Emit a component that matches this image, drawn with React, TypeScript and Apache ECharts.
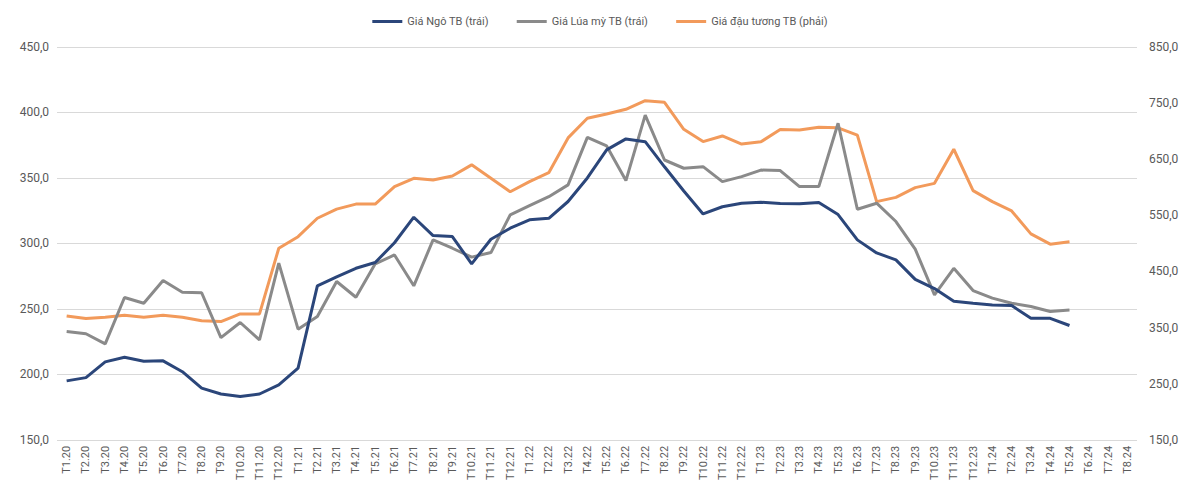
import React, { useEffect, useRef } from "react";
import * as echarts from "echarts";

const categories = [
  "T1.20","T2.20","T3.20","T4.20","T5.20","T6.20","T7.20","T8.20","T9.20","T10.20","T11.20","T12.20",
  "T1.21","T2.21","T3.21","T4.21","T5.21","T6.21","T7.21","T8.21","T9.21","T10.21","T11.21","T12.21",
  "T1.22","T2.22","T3.22","T4.22","T5.22","T6.22","T7.22","T8.22","T9.22","T10.22","T11.22","T12.22",
  "T1.23","T2.23","T3.23","T4.23","T5.23","T6.23","T7.23","T8.23","T9.23","T10.23","T11.23","T12.23",
  "T1.24","T2.24","T3.24","T4.24","T5.24","T6.24","T7.24","T8.24",
];

const cornPrice = [
  195, 197.5, 209.5, 213, 210, 210.3, 202, 189.5, 185, 183, 185, 192,
  204.7, 267.6, 274.5, 281, 285.4, 300.5, 320, 306, 305.2, 284.4, 303.2, 311.6,
  318, 319.2, 332, 350, 371.4, 379.8, 377.7, 358.5, 340, 322.5, 328, 330.7,
  331.4, 330.5, 330.3, 331.2, 322, 302.7, 292.7, 287.4, 272.5, 265.5, 255.8, 254.3,
  253, 252.5, 242.8, 242.8, 237.3,
];

const wheatPrice = [
  232.7, 231, 223.3, 258.7, 254.3, 271.6, 262.7, 262.3, 228, 239.6, 226.3, 284.9,
  234.5, 244.1, 270.9, 258.9, 284.4, 291.2, 267.6, 302.7, 296.3, 289.5, 293, 321.8,
  328.9, 335.7, 344.7, 381, 374.4, 348, 398, 363.7, 357.4, 358.6, 347.2, 351,
  356, 355.6, 343.4, 343.4, 391.8, 326.1, 330.7, 316.7, 295.6, 260.7, 281, 264,
  258.2, 254.3, 251.8, 248, 249.2,
];

const soyPrice = [
  370.8, 366, 368.5, 372, 368.5, 372, 368.5, 362, 360.7, 374.4, 374.4, 491.4,
  512, 544.8, 561, 570, 570, 601, 616, 613, 620, 640, 616, 592,
  610, 626, 688, 723, 730.7, 739, 754.4, 751.5, 703.4, 681.4, 691.5, 677,
  681, 703, 702, 707, 706, 693, 574.4, 582, 599.4, 607, 667.8, 594,
  574.4, 557.9, 517, 498.6, 503,
];

const seriesNames = ["Giá Ngô TB (trái)", "Giá Lúa mỳ TB (trái)", "Giá đậu tương TB (phải)"];
const seriesColors = ["#2B467A", "#8A8A8A", "#F29A5B"];

const fmt = (v: number) => v.toFixed(1).replace(".", ",");

export default function App() {
  const ref = useRef<HTMLDivElement>(null);
  useEffect(() => {
    document.body.style.margin = "0";
    if (!ref.current) return;
    const chart = echarts.init(ref.current, null, { renderer: "svg" });
    const font = "Roboto, 'Noto Sans', sans-serif";
    chart.setOption({
      animation: false,
      backgroundColor: "#ffffff",
      textStyle: { fontFamily: font },
      legend: {
        top: 11,
        left: "center",
        itemWidth: 30,
        itemHeight: 3,
        itemGap: 28,
        icon: "rect",
        textStyle: { color: "#595959", fontSize: 11, fontFamily: font },
        data: seriesNames,
      },
      grid: { left: 57, right: 63, top: 47, bottom: 43, containLabel: false },
      xAxis: {
        type: "category",
        data: categories,
        boundaryGap: true,
        axisLine: { show: false },
        axisTick: { show: false },
        axisLabel: {
          interval: 0,
          rotate: 90,
          color: "#595959",
          fontSize: 11,
          margin: 6,
          fontFamily: font,
        },
      },
      yAxis: [
        {
          type: "value",
          min: 150,
          max: 450,
          interval: 50,
          axisLine: { show: false },
          axisTick: { show: false },
          splitLine: { lineStyle: { color: "#D9D9D9", width: 1 } },
          axisLabel: { formatter: fmt, color: "#595959", fontSize: 12, margin: 8, fontFamily: font },
        },
        {
          type: "value",
          min: 150,
          max: 850,
          interval: 100,
          axisLine: { show: false },
          axisTick: { show: false },
          splitLine: { show: false },
          axisLabel: { formatter: fmt, color: "#595959", fontSize: 12, margin: 12, fontFamily: font },
        },
      ],
      series: [
        {
          name: seriesNames[0],
          type: "line",
          yAxisIndex: 0,
          data: cornPrice,
          showSymbol: false,
          symbol: "none",
          lineStyle: { color: seriesColors[0], width: 3 },
          itemStyle: { color: seriesColors[0] },
          z: 4,
        },
        {
          name: seriesNames[1],
          type: "line",
          yAxisIndex: 0,
          data: wheatPrice,
          showSymbol: false,
          symbol: "none",
          lineStyle: { color: seriesColors[1], width: 3 },
          itemStyle: { color: seriesColors[1] },
          z: 3,
        },
        {
          name: seriesNames[2],
          type: "line",
          yAxisIndex: 1,
          data: soyPrice,
          showSymbol: false,
          symbol: "none",
          lineStyle: { color: seriesColors[2], width: 3 },
          itemStyle: { color: seriesColors[2] },
          z: 2,
        },
      ],
    });
    return () => chart.dispose();
  }, []);
  return (
    <div
      ref={ref}
      style={{ position: "absolute", left: 0, top: 0, width: 1200, height: 483 }}
    />
  );
}
